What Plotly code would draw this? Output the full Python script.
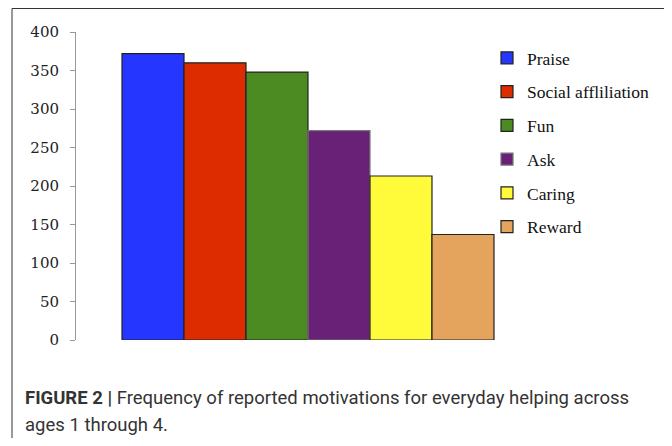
import plotly.graph_objects as go

categories = ["Praise", "Social affliliation", "Fun", "Ask", "Caring", "Reward"]
values = [372, 360, 348, 272, 213, 137]
colors = ["#2436FF", "#DD2C00", "#4C8B22", "#692077", "#FFFB3B", "#E4A45E"]
outline = ["#222222", "#222222", "#222222", "#777777", "#222222", "#222222"]
y_ticks = [0, 50, 100, 150, 200, 250, 300, 350, 400]
caption_bold = "FIGURE 2 |"
caption_line1 = " Frequency of reported motivations for everyday helping across"
caption_line2 = "ages 1 through 4."

# page body has an 8px margin; work in figure pixels (page - 8)
W, H = 664, 430

def px(x):
    return x / W

def py(y):
    return 1 - y / H

fig = go.Figure()
for i, (c, v, col, oc) in enumerate(zip(categories, values, colors, outline)):
    fig.add_trace(go.Bar(
        x=[i], y=[v], width=1, name=c, legendgroup=c,
        marker=dict(color=col, line=dict(color=oc, width=1.2)),
    ))

fig.update_layout(
    width=W, height=H,
    margin=dict(l=0, r=0, t=0, b=0, autoexpand=False),
    paper_bgcolor="white", plot_bgcolor="white",
    barmode="overlay",
    showlegend=True,
    legend=dict(
        x=px(479), y=py(32), xanchor="left", yanchor="top",
        font=dict(family="Liberation Serif, DejaVu Serif, serif", size=17.5, color="#111"),
        tracegroupgap=8, traceorder="grouped",
        bgcolor="rgba(0,0,0,0)",
    ),
    xaxis=dict(
        domain=[px(68), px(492)],
        range=[-1.242, 5.597],
        showgrid=False, zeroline=False, showline=False,
        showticklabels=False, ticks="", automargin=False,
    ),
    yaxis=dict(
        domain=[py(332), py(24)],
        range=[0, 400],
        tickvals=y_ticks,
        showgrid=False, zeroline=False, automargin=False,
        showline=True, linecolor="#999999", linewidth=1,
        ticks="outside", ticklen=5, tickcolor="#999999",
        ticklabelstandoff=8,
        tickfont=dict(family="DejaVu Serif, serif", size=15, color="#222"),
    ),
    shapes=[dict(
        type="rect", xref="paper", yref="paper",
        x0=px(4), x1=px(660), y0=py(460), y1=py(0.5),
        line=dict(color="#333333", width=1), fillcolor="rgba(0,0,0,0)",
    )],
    annotations=[
        dict(
            xref="paper", yref="paper",
            x=px(15), y=py(390), xanchor="left", yanchor="middle",
            align="left", showarrow=False,
            text="<b>" + caption_bold + "</b>" + caption_line1,
            font=dict(family="Roboto, sans-serif", size=18.5, color="#333"),
        ),
        dict(
            xref="paper", yref="paper",
            x=px(15), y=py(417), xanchor="left", yanchor="middle",
            align="left", showarrow=False,
            text=caption_line2,
            font=dict(family="Roboto, sans-serif", size=18.5, color="#333"),
        ),
    ],
)

fig.write_html("out.html")
